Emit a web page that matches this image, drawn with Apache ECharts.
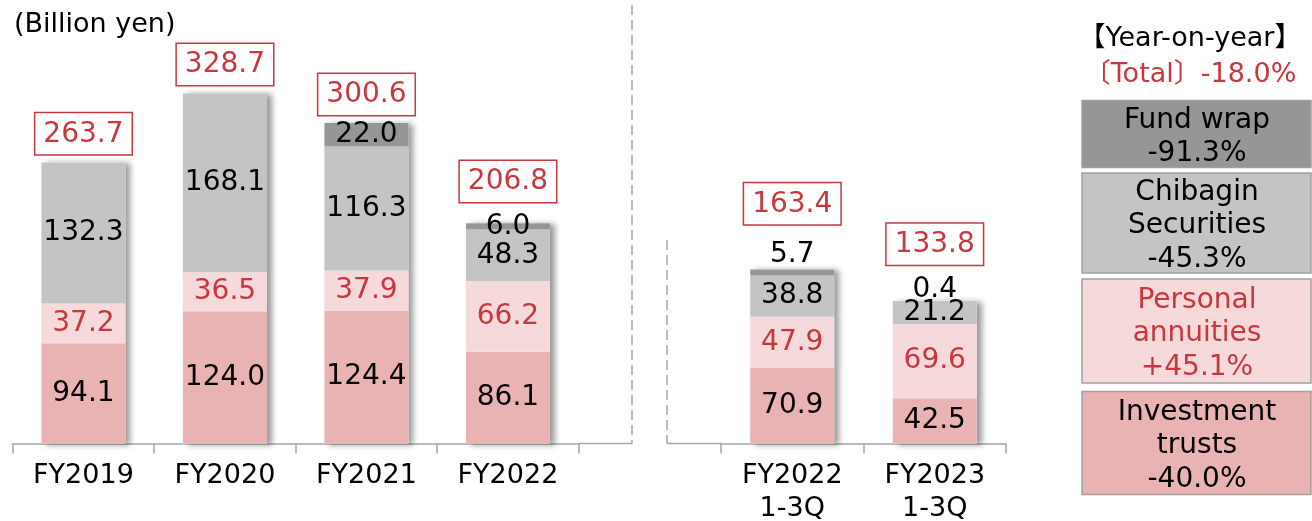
<!DOCTYPE html>
<html>

<head>
	<meta charset="UTF-8">
	<script src="https://cdn.jsdelivr.net/npm/echarts@6/dist/echarts.min.js"></script>
	<style>
		body {
			margin: 0;
			padding: 0;
			background: #ffffff;
		}

		#chart {
			width: 1312px;
			height: 521px;
		}
	</style>
</head>

<body>
	<div id="chart"></div>
	<script>
		// 数据
		var categoriesA = ['FY2019', 'FY2020', 'FY2021', 'FY2022'];
		var investA = [94.1, 124.0, 124.4, 86.1];
		var annuityA = [37.2, 36.5, 37.9, 66.2];
		var securitiesA = [132.3, 168.1, 116.3, 48.3];
		var wrapA = [0, 0, 22.0, 6.0];
		var totalA = [263.7, 328.7, 300.6, 206.8];

		var categoriesB = ['FY2022\n1-3Q', 'FY2023\n1-3Q'];
		var investB = [70.9, 42.5];
		var annuityB = [47.9, 69.6];
		var securitiesB = [38.8, 21.2];
		var wrapB = [5.7, 0.4];
		var totalB = [163.4, 133.8];

		var legendRows = [
			{ lines: ['Fund wrap', '-91.3%'], color: '#969696', text: '#000' },
			{ lines: ['Chibagin', 'Securities', '-45.3%'], color: '#c4c4c4', text: '#000' },
			{ lines: ['Personal', 'annuities', '+45.1%'], color: '#f6d9da', text: '#c8373c' },
			{ lines: ['Investment', 'trusts', '-40.0%'], color: '#e9b3b3', text: '#000' }
		];

		var FONT = 'DejaVu Sans, Noto Sans CJK JP, sans-serif';
		var RED = '#c8373c';

		function fmt(p) {
			return p.value ? Number(p.value).toFixed(1) : '';
		}

		function stackSeries(idx, name, data, color, labelColor) {
			return {
				name: name,
				type: 'bar',
				stack: 'g' + idx,
				xAxisIndex: idx,
				yAxisIndex: idx,
				barWidth: 84,
				barGap: '-100%',
				z: 3,
				data: data,
				itemStyle: { color: color },
				label: {
					show: true,
					position: 'inside',
					formatter: fmt,
					color: labelColor,
					fontSize: 28,
					fontFamily: FONT
				}
			};
		}

		function totalSeries(idx, data, gaps) {
			return {
				type: 'bar',
				xAxisIndex: idx,
				yAxisIndex: idx,
				barWidth: 84,
				barGap: '-100%',
				z: 2,
				data: data.map(function (v, i) {
					return { value: v, label: { distance: gaps[i] } };
				}),
				itemStyle: {
					color: '#ffffff',
					shadowColor: 'rgba(0,0,0,0.4)',
					shadowBlur: 6,
					shadowOffsetX: 5,
					shadowOffsetY: 1
				},
				label: {
					show: true,
					position: 'top',
					formatter: fmt,
					color: RED,
					fontSize: 28,
					fontFamily: FONT,
					backgroundColor: '#ffffff',
					borderColor: RED,
					borderWidth: 1.5,
					padding: [7, 8, 6, 8],
					lineHeight: 28
				}
			};
		}

		var series = [
			stackSeries(0, 'Investment trusts', investA, '#e9b3b3', '#000'),
			stackSeries(0, 'Personal annuities', annuityA, '#f6d9da', RED),
			stackSeries(0, 'Chibagin Securities', securitiesA, '#c4c4c4', '#000'),
			stackSeries(0, 'Fund wrap', wrapA, '#969696', '#000'),
			totalSeries(0, totalA, [8, 8, 8, 21]),
			stackSeries(1, 'Investment trusts', investB, '#e9b3b3', '#000'),
			stackSeries(1, 'Personal annuities', annuityB, '#f6d9da', RED),
			stackSeries(1, 'Chibagin Securities', securitiesB, '#c4c4c4', '#000'),
			stackSeries(1, 'Fund wrap', wrapB.map(function (v, i) {
				return { value: v, label: { position: 'top', distance: i === 0 ? 1 : -3 } };
			}), '#969696', '#000'),
			totalSeries(1, totalB, [45, 36])
		];

		var axisStyle = {
			axisLine: { lineStyle: { color: '#a6a6a6', width: 1.5 } },
			axisTick: { show: true, length: 10, lineStyle: { color: '#a6a6a6', width: 1.5 } },
			axisLabel: { color: '#000', fontSize: 27, fontFamily: FONT, lineHeight: 33, margin: 16, interval: 0 }
		};

		// 图形元素：分隔虚线、单位、右侧同比说明
		var graphics = [
			{ type: 'line', shape: { x1: 578.7, y1: 443.5, x2: 632, y2: 443.5 }, style: { stroke: '#a6a6a6', lineWidth: 1.5 } },
			{ type: 'line', shape: { x1: 667, y1: 443.5, x2: 721, y2: 443.5 }, style: { stroke: '#a6a6a6', lineWidth: 1.5 } },
			{ type: 'line', shape: { x1: 632, y1: 5, x2: 632, y2: 443.5 }, style: { stroke: '#a6a6a6', lineWidth: 1.5, lineDash: [10, 5] } },
			{ type: 'line', shape: { x1: 667, y1: 240, x2: 667, y2: 443.5 }, style: { stroke: '#a6a6a6', lineWidth: 1.5, lineDash: [10, 5] } },
			{ type: 'text', x: 14, y: 25, style: { text: '(Billion yen)', fontSize: 27, fontFamily: FONT, fill: '#000', align: 'left', verticalAlign: 'middle' } },
			{ type: 'text', x: 1190, y: 39, style: { text: '【Year-on-year】', fontSize: 27, fontFamily: FONT, fill: '#000', align: 'center', verticalAlign: 'middle' } },
			{ type: 'text', x: 1190, y: 75, style: { text: '〔Total〕-18.0%', fontSize: 27, fontFamily: FONT, fill: RED, align: 'center', verticalAlign: 'middle' } }
		];

		var boxTops = [100.5, 173, 279, 391.5];
		var boxHeights = [67, 100, 104, 103];
		legendRows.forEach(function (row, i) {
			var top = boxTops[i];
			var h = boxHeights[i];
			graphics.push({
				type: 'rect',
				shape: { x: 1082, y: top, width: 229, height: h },
				style: { fill: row.color, stroke: '#a0a0a0', lineWidth: 1.5 }
			});
			var first = top + h / 2 - (row.lines.length - 1) * 33.5 / 2 + 3;
			row.lines.forEach(function (t, j) {
				graphics.push({
					type: 'text',
					x: 1197,
					y: first + j * 33.5,
					style: { text: t, fontSize: 28, fontFamily: FONT, fill: row.text, align: 'center', verticalAlign: 'middle' }
				});
			});
		});

		var option = {
			animation: false,
			backgroundColor: '#ffffff',
			grid: [
				{ left: 12.7, width: 566, top: 17, bottom: 77.5, outerBoundsMode: 'none' },
				{ left: 721, width: 285, top: 17, bottom: 77.5, outerBoundsMode: 'none' }
			],
			xAxis: [
				Object.assign({ type: 'category', gridIndex: 0, data: categoriesA }, axisStyle),
				Object.assign({ type: 'category', gridIndex: 1, data: categoriesB }, axisStyle)
			],
			yAxis: [
				{ type: 'value', gridIndex: 0, min: 0, max: 400, show: false },
				{ type: 'value', gridIndex: 1, min: 0, max: 400, show: false }
			],
			series: series,
			graphic: graphics
		};

		var mychart = echarts.init(document.getElementById('chart'));
		mychart.setOption(option);
	</script>
</body>

</html>
